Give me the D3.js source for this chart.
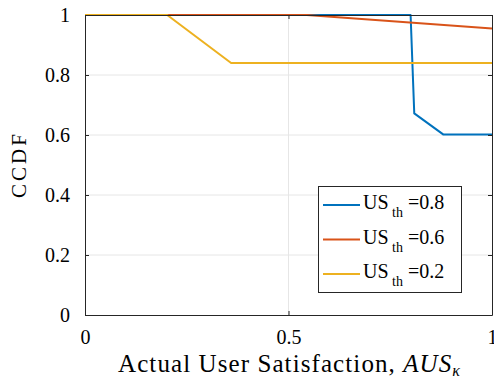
<html>
<script src='https://d3js.org/d3.v7.min.js'></script>
<style>
  body { margin: 0; background: white; }
  text { font-family: 'Liberation Serif', 'Times New Roman', serif; fill: #000; }
</style>
<body>
<svg width=494 height=381></svg>
<script>
// values
var xTicks = [0, 0.5, 1]
var yTicks = [0, 0.2, 0.4, 0.6, 0.8, 1]
var xTickLabels = ["0", "0.5", "1"]
var yTickLabels = ["0", "0.2", "0.4", "0.6", "0.8", "1"]

var seriesNames = ["0.8", "0.6", "0.2"]
var seriesColors = ["#0072BD", "#D95319", "#EDB120"]

var blueX = [0, 0.800, 0.809, 0.880, 1]
var blueY = [1, 1, 0.672, 0.602, 0.602]
var redX = [0, 0.545, 1]
var redY = [1, 1, 0.955]
var yellowX = [0, 0.202, 0.359, 1]
var yellowY = [1, 1, 0.84, 0.84]

var seriesX = [blueX, redX, yellowX]
var seriesY = [blueY, redY, yellowY]

function draw() {
  var pLeft = 85, pRight = 492, pTop = 15, pBottom = 315
  var serif = "Liberation Serif, serif"

  var x = d3.scaleLinear().domain([0, 1]).range([pLeft, pRight])
  var y = d3.scaleLinear().domain([0, 1]).range([pBottom, pTop])

  var svg = d3.select("svg")

  // grid
  svg.append("g").selectAll("line").data(xTicks.slice(1, -1)).enter()
    .append("line")
    .attr("x1", function(d) { return x(d) }).attr("x2", function(d) { return x(d) })
    .attr("y1", pTop).attr("y2", pBottom)
    .style("stroke", "#e6e6e6").style("stroke-width", 1)
  svg.append("g").selectAll("line").data(yTicks.slice(1, -1)).enter()
    .append("line")
    .attr("y1", function(d) { return y(d) }).attr("y2", function(d) { return y(d) })
    .attr("x1", pLeft).attr("x2", pRight)
    .style("stroke", "#e6e6e6").style("stroke-width", 1)

  // lines
  var line = d3.line().x(function(d) { return x(d[0]) }).y(function(d) { return y(d[1]) })
  seriesX.forEach(function(xs, i) {
    var pts = xs.map(function(v, j) { return [v, seriesY[i][j]] })
    svg.append("path").attr("d", line(pts))
      .style("fill", "none").style("stroke", seriesColors[i]).style("stroke-width", 2)
      .style("stroke-linejoin", "round")
  })

  // axes (ticks inside, mirrored on top/right)
  var axisColor = "#262626"
  var bottomAxis = svg.append("g").attr("transform", "translate(0," + pBottom + ")")
    .call(d3.axisBottom(x).tickValues(xTicks).tickSizeInner(-4).tickSizeOuter(0)
      .tickFormat(function(d, i) { return xTickLabels[i] }))
  var leftAxis = svg.append("g").attr("transform", "translate(" + pLeft + ",0)")
    .call(d3.axisLeft(y).tickValues(yTicks).tickSizeInner(-4).tickSizeOuter(0)
      .tickFormat(function(d, i) { return yTickLabels[i] }))
  var topAxis = svg.append("g").attr("transform", "translate(0," + pTop + ")")
    .call(d3.axisTop(x).tickValues(xTicks).tickSizeInner(-4).tickSizeOuter(0).tickFormat(""))
  var rightAxis = svg.append("g").attr("transform", "translate(" + pRight + ",0)")
    .call(d3.axisRight(y).tickValues(yTicks).tickSizeInner(-4).tickSizeOuter(0).tickFormat(""))

  ;[bottomAxis, leftAxis, topAxis, rightAxis].forEach(function(g) {
    g.attr("font-family", serif).attr("font-size", 20)
    g.selectAll("path, line").style("stroke", axisColor).style("stroke-width", 1)
    g.selectAll("text").style("fill", "#000")
  })
  bottomAxis.selectAll("text").attr("y", 15).attr("dy", "0.71em")
  leftAxis.selectAll("text").attr("x", -15).attr("dy", "0.32em")

  // axis labels
  svg.append("text")
    .attr("x", 289).attr("y", 372)
    .attr("text-anchor", "middle")
    .attr("font-size", 25)
    .attr("textLength", 342).attr("lengthAdjust", "spacing")
    .html("Actual User Satisfaction, <tspan font-style='italic'>AUS</tspan><tspan font-style='italic' font-size='16px' dy='4'>κ</tspan>")

  svg.append("text")
    .attr("transform", "translate(26,166) rotate(-90)")
    .attr("text-anchor", "middle")
    .attr("font-size", 21)
    .attr("textLength", 64).attr("lengthAdjust", "spacing")
    .text("CCDF")

  // legend
  var legend = svg.append("g")
  legend.append("rect")
    .attr("x", 318.5).attr("y", 186.5).attr("width", 143).attr("height", 106)
    .style("fill", "white").style("stroke", "#262626").style("stroke-width", 1)

  seriesNames.forEach(function(name, i) {
    var ly = 205 + i * 34.5
    legend.append("line")
      .attr("x1", 323).attr("x2", 360).attr("y1", ly).attr("y2", ly)
      .style("stroke", seriesColors[i]).style("stroke-width", 2)
    legend.append("text").attr("x", 363).attr("y", ly + 4).attr("font-size", 20).text("US")
    legend.append("text").attr("x", 392).attr("y", ly + 12).attr("font-size", 14).text("th")
    legend.append("text").attr("x", 408).attr("y", ly + 4).attr("font-size", 20).text("=" + name)
  })
}
draw()
</script>
</body>
</html>
